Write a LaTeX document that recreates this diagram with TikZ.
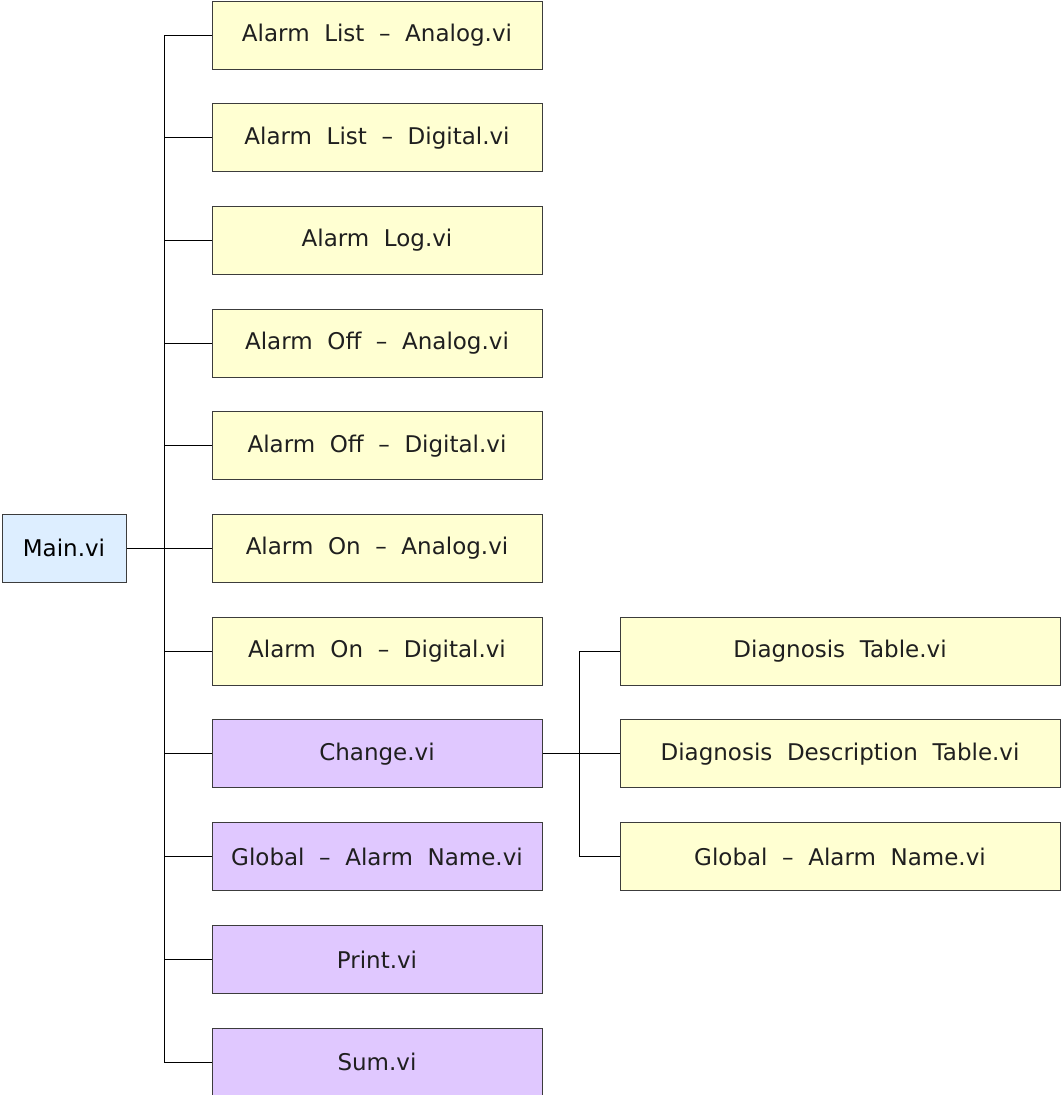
\documentclass[tikz,border=0pt]{standalone}
\usepackage{fontspec}
\setmainfont[WordSpace=2.0]{DejaVu Sans}
\usetikzlibrary{positioning}

\definecolor{leafyellow}{HTML}{FFFFD2}
\definecolor{ownpurple}{HTML}{E0C8FF}
\definecolor{mainblue}{HTML}{DDEEFF}
\definecolor{boxline}{HTML}{3C3C3C}

\tikzset{
  vibox/.style={draw=boxline, line width=1pt, minimum height=68pt, inner sep=0pt,
    font=\fontsize{23}{26}\selectfont, text=black!88},
  leaf/.style={vibox, fill=leafyellow, minimum width=330pt},
  own/.style={vibox, fill=ownpurple, minimum width=330pt},
  wideleaf/.style={leaf, minimum width=440pt},
  mainbox/.style={vibox, fill=mainblue, minimum width=124pt, text=black},
  link/.style={line width=0.9pt, black}
}

\begin{document}
\begin{tikzpicture}[x=1pt, y=-1pt, node distance=33.7pt and 77pt]
  \useasboundingbox (0,0) rectangle (1061,1095);

  \node[mainbox]           (main) at (64,548) {Main.vi};

  \node[leaf]              (listA) at (377,35) {Alarm List -- Analog.vi};
  \node[leaf, below=of listA] (listD) {Alarm List -- Digital.vi};
  \node[leaf, below=of listD] (log)   {Alarm Log.vi};
  \node[leaf, below=of log]   (offA)  {Alarm Off -- Analog.vi};
  \node[leaf, below=of offA]  (offD)  {Alarm Off -- Digital.vi};
  \node[leaf, below=of offD]  (onA)   {Alarm On -- Analog.vi};
  \node[leaf, below=of onA]   (onD)   {Alarm On -- Digital.vi};
  \node[own,  below=of onD]   (chg)   {Change.vi};
  \node[own,  below=of chg]   (gname) {Global -- Alarm Name.vi};
  \node[own,  below=of gname] (print) {Print.vi};
  \node[own,  below=of print] (sum)   {Sum.vi};

  \node[wideleaf, right=of chg] (ddesc)  {Diagnosis Description Table.vi};
  \node[wideleaf, above=of ddesc] (dtab) {Diagnosis Table.vi};
  \node[wideleaf, below=of ddesc] (gname2) {Global -- Alarm Name.vi};

  % trunk from Main.vi
  \coordinate[left=47pt of listA.west] (trunk);
  \draw[link] (listA.west) -- (trunk) |- (sum.west);
  \foreach \n in {listD,log,offA,offD,onA,onD,chg,gname,print}
    \draw[link] (\n.west) -- (\n.west -| trunk);
  \draw[link] (main.east) -- (main.east -| trunk);

  % branch from Change.vi
  \coordinate[left=40pt of dtab.west] (branch);
  \draw[link] (dtab.west) -- (branch) |- (gname2.west);
  \draw[link] (chg.east) -- (ddesc.west);
\end{tikzpicture}
\end{document}
